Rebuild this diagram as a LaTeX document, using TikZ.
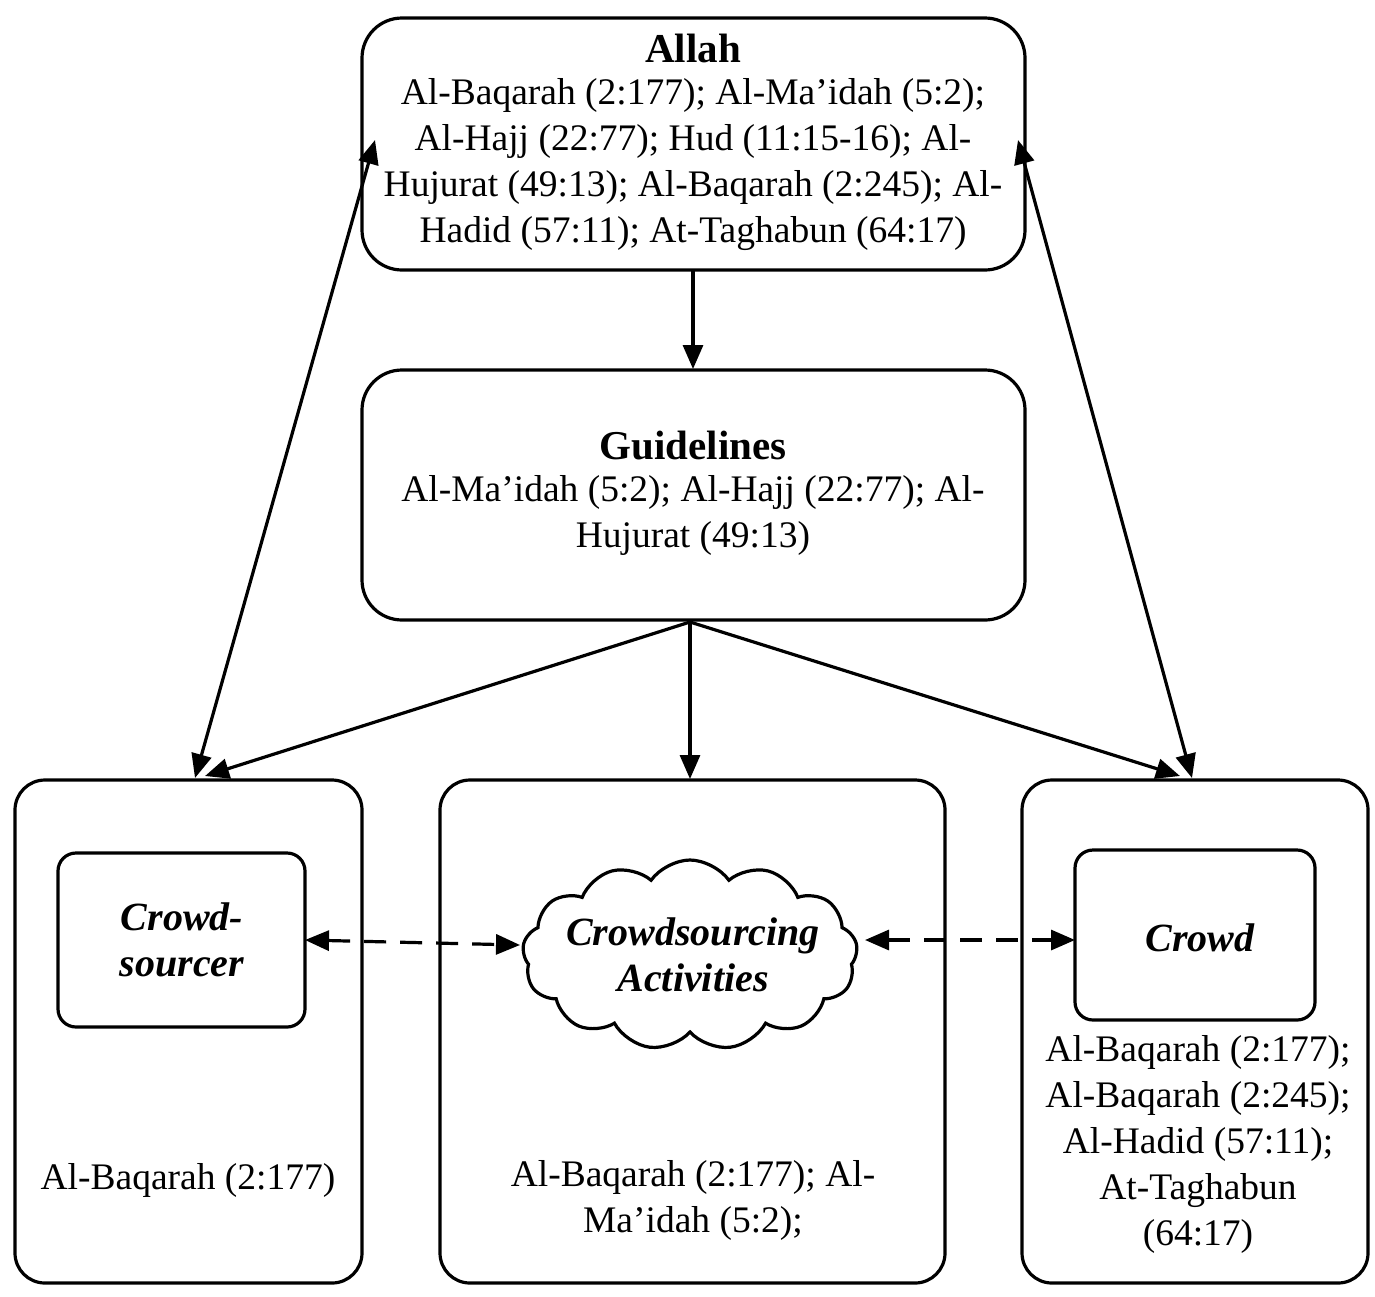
\documentclass[tikz,border=0pt]{standalone}
\usepackage{fontspec}
\setmainfont{Liberation Serif}
\usetikzlibrary{shapes.symbols,arrows.meta}
\begin{document}
\begin{tikzpicture}[x=1pt,y=-1pt,
  box/.style={draw,line width=3.2pt,rounded corners=40pt},
  ibox/.style={draw,line width=3.2pt,rounded corners=18pt},
  txt/.style={font=\fontsize{37.5}{46}\selectfont,align=center},
  ttl/.style={font=\fontsize{41}{46}\selectfont\bfseries,align=center},
  itl/.style={font=\fontsize{40}{46}\selectfont\bfseries\itshape,align=center},
  arr/.style={line width=3.2pt,-{Triangle[length=24pt,width=20pt]}},
  darr/.style={line width=3.2pt,{Triangle[length=24pt,width=20pt]}-{Triangle[length=24pt,width=20pt]}},
  dashed arr/.style={darr,dash pattern=on 22pt off 14pt}]
\useasboundingbox (0,0) rectangle (1375,1296);
\draw[box] (362,18) rectangle (1025,270);
\node[ttl] (allahT) at (693,48) {Allah};
\node[txt,anchor=north] (allah) at (693,75) {Al-Baqarah (2:177); Al-Ma’idah (5:2);\\Al-Hajj (22:77); Hud (11:15-16); Al-\\Hujurat (49:13); Al-Baqarah (2:245); Al-\\Hadid (57:11); At-Taghabun (64:17)};
\draw[box] (362,370) rectangle (1025,620);
\node[ttl] (guideT) at (693,446) {Guidelines};
\node[txt,anchor=north] (guide) at (693,472) {Al-Ma’idah (5:2); Al-Hajj (22:77); Al-\\Hujurat (49:13)};
\draw[box,rounded corners=30pt] (15,780) rectangle (362,1283);
\draw[box,rounded corners=30pt] (440,780) rectangle (945,1283);
\draw[box,rounded corners=30pt] (1022,780) rectangle (1368,1283);
\draw[ibox] (58,853) rectangle (305,1027);
\node[itl] (cs) at (182,940) {Crowd-\\sourcer};
\draw[ibox] (1075,850) rectangle (1315,1020);
\node[itl] (cr) at (1200,938) {Crowd};
\node[cloud,draw,line width=3.2pt,cloud puffs=13,cloud puff arc=110,minimum width=335pt,minimum height=190pt,inner sep=0pt] (cl) at (690,955) {};
\node[itl] at (693,955) {Crowdsourcing\\Activities};
\node[txt] (t1) at (188,1180) {Al-Baqarah (2:177)};
\node[txt] (t2) at (693,1200) {Al-Baqarah (2:177); Al-\\Ma’idah (5:2);};
\node[txt] (t3) at (1198,1144) {Al-Baqarah (2:177);\\Al-Baqarah (2:245);\\Al-Hadid (57:11);\\At-Taghabun\\(64:17)};
\coordinate (a1) at (375,140); \coordinate (b1) at (195,778);
\coordinate (a2) at (1018,140); \coordinate (b2) at (1192,778);
\draw[darr] (a1) -- (b1);
\draw[darr] (a2) -- (b2);
\coordinate (ab) at (693,270); \coordinate (gt) at (693,369);
\draw[arr] (ab) -- (gt);
\coordinate (gb) at (690,622);
\coordinate (m) at (690,779); \coordinate (l) at (205,776); \coordinate (r) at (1180,776);
\draw[arr] (gb) -- (m);
\draw[arr] (gb) -- (l);
\draw[arr] (gb) -- (r);
\coordinate (d1) at (305,940); \coordinate (d2) at (520,945);
\coordinate (d3) at (865,940); \coordinate (d4) at (1075,940);
\draw[dashed arr] (d1) -- (d2);
\draw[dashed arr] (d3) -- (d4);
\end{tikzpicture}
\end{document}
